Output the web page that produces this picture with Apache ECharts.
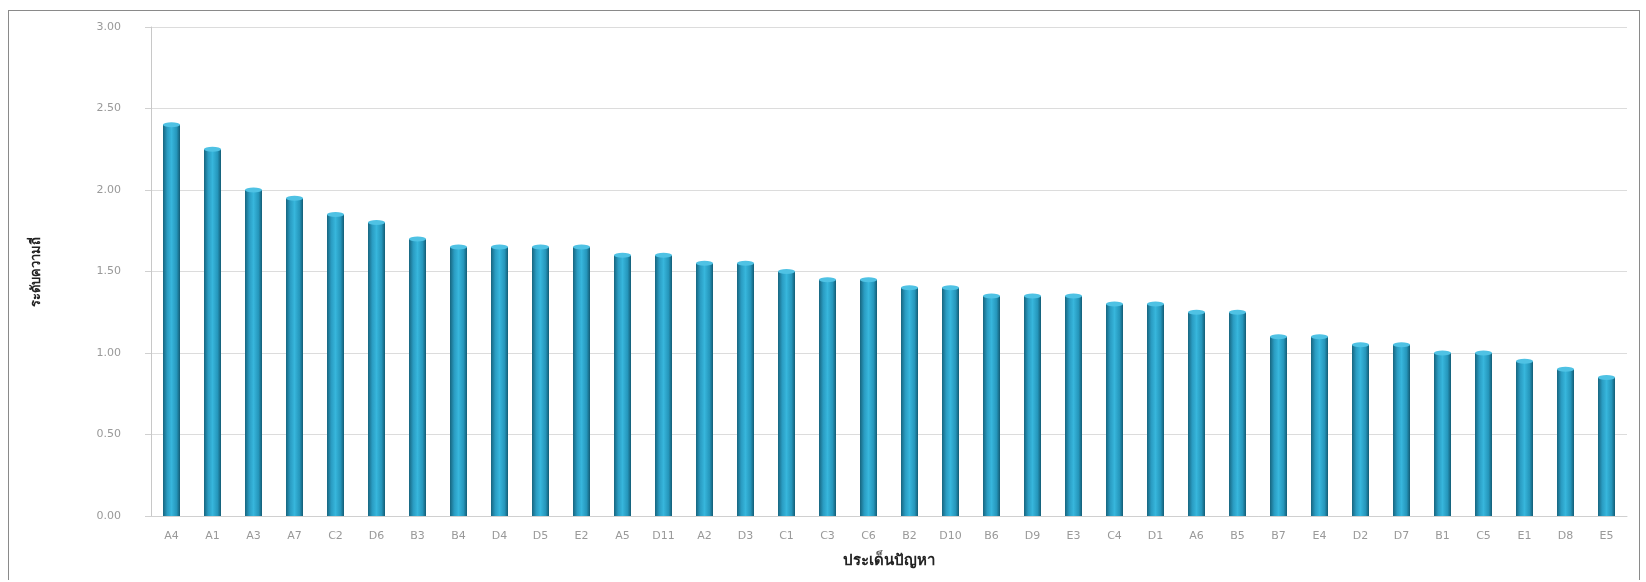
<!DOCTYPE html>
<html>
<head>
<meta charset="utf-8">
<script src="https://cdn.jsdelivr.net/npm/echarts@6/dist/echarts.min.js"></script>
<style>
  html, body { margin: 0; padding: 0; background: #fff; }
  #frame { position: absolute; left: 8px; top: 10px; width: 1632px; height: 570px; border: 1px solid #8a8a8a; border-bottom: none; box-sizing: border-box; }
  #chart { width: 1646px; height: 582px; }
</style>
</head>
<body>
<div id="frame"></div>
<div id="chart"></div>
<script>
// หมวดประเด็นปัญหา
const categories = ['A4', 'A1', 'A3', 'A7', 'C2', 'D6', 'B3', 'B4', 'D4', 'D5', 'E2', 'A5',
  'D11', 'A2', 'D3', 'C1', 'C3', 'C6', 'B2', 'D10', 'B6', 'D9', 'E3', 'C4',
  'D1', 'A6', 'B5', 'B7', 'E4', 'D2', 'D7', 'B1', 'C5', 'E1', 'D8', 'E5'];
// ค่าระดับ
const values = [2.40, 2.25, 2.00, 1.95, 1.85, 1.80, 1.70, 1.65, 1.65, 1.65, 1.65, 1.60,
  1.60, 1.55, 1.55, 1.50, 1.45, 1.45, 1.40, 1.40, 1.35, 1.35, 1.35, 1.30,
  1.30, 1.25, 1.25, 1.10, 1.10, 1.05, 1.05, 1.00, 1.00, 0.95, 0.90, 0.85];
const yTicks = [0, 0.5, 1, 1.5, 2, 2.5, 3];

const chart = echarts.init(document.getElementById('chart'));
chart.setOption({
  animation: false,
  grid: { left: 151, right: 19, top: 27, bottom: 66 },
  xAxis: {
    type: 'category',
    data: categories,
    name: 'ประเด็นปัญหา',
    nameLocation: 'middle',
    nameGap: 37,
    nameTextStyle: { fontFamily: 'Noto Sans', fontSize: 15, fontWeight: 'bold', color: '#222' },
    axisLine: { lineStyle: { color: '#d0d0d0' } },
    axisTick: { show: false },
    axisLabel: { color: '#999', fontFamily: 'DejaVu Sans', fontSize: 11, margin: 15 }
  },
  yAxis: {
    type: 'value',
    min: yTicks[0],
    max: yTicks[yTicks.length - 1],
    interval: 0.5,
    name: 'ระดับความถี่',
    nameLocation: 'middle',
    nameGap: 108,
    nameTextStyle: { fontFamily: 'Noto Sans', fontSize: 13, fontWeight: 'bold', color: '#222' },
    axisLine: { show: true, lineStyle: { color: '#c8c8c8' } },
    axisTick: { show: true, length: 6, lineStyle: { color: '#d0d0d0' } },
    splitLine: { lineStyle: { color: '#dcdcdc' } },
    axisLabel: {
      color: '#999', fontFamily: 'DejaVu Sans', fontSize: 11, margin: 30,
      formatter: v => v.toFixed(2)
    }
  },
  series: [
    {
      type: 'bar',
      data: values,
      barWidth: 17,
      itemStyle: {
        color: new echarts.graphic.LinearGradient(0, 0, 1, 0, [
          { offset: 0, color: '#17657f' },
          { offset: 0.25, color: '#2a9cc2' },
          { offset: 0.5, color: '#37b6dc' },
          { offset: 0.8, color: '#2596bb' },
          { offset: 1, color: '#135c75' }
        ])
      }
    },
    {
      type: 'pictorialBar',
      data: values,
      symbol: 'circle',
      symbolSize: [17, 5],
      symbolPosition: 'end',
      symbolOffset: [0, '-50%'],
      z: 3,
      itemStyle: { color: '#4fc2e4' }
    }
  ]
});
</script>
</body>
</html>
